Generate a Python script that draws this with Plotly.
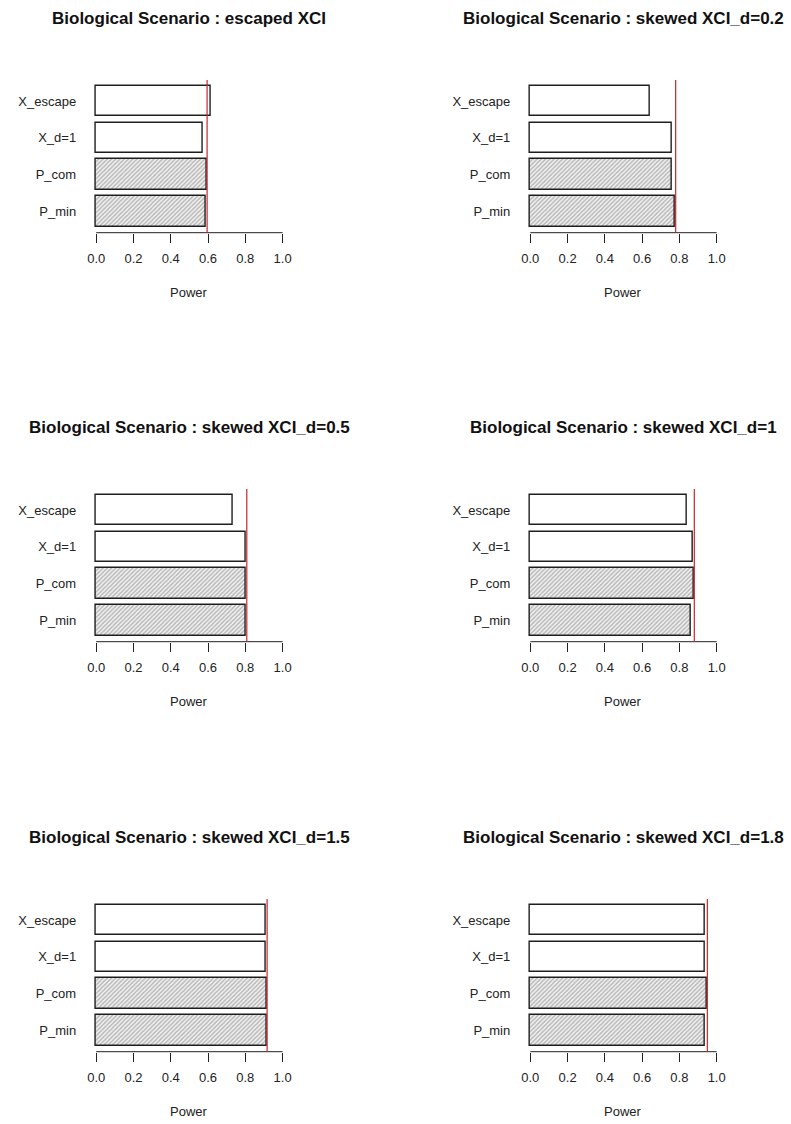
import plotly.graph_objects as go

# ---- data ----
titles = [
    "Biological Scenario : escaped XCI",
    "Biological Scenario : skewed XCI_d=0.2",
    "Biological Scenario : skewed XCI_d=0.5",
    "Biological Scenario : skewed XCI_d=1",
    "Biological Scenario : skewed XCI_d=1.5",
    "Biological Scenario : skewed XCI_d=1.8",
]
methods = ["P_min", "P_com", "X_d=1", "X_escape"]  # bottom -> top
hatched = [True, True, False, False]

power_p1 = [0.59, 0.595, 0.571, 0.617]
power_p2 = [0.778, 0.758, 0.758, 0.641]
power_p3 = [0.802, 0.802, 0.802, 0.730]
power_p4 = [0.863, 0.875, 0.873, 0.842]
power_p5 = [0.915, 0.915, 0.911, 0.911]
power_p6 = [0.938, 0.948, 0.938, 0.938]
powers = [power_p1, power_p2, power_p3, power_p4, power_p5, power_p6]

ref_line = [0.595, 0.78, 0.808, 0.88, 0.917, 0.95]

x_ticks = [0.0, 0.2, 0.4, 0.6, 0.8, 1.0]
x_ticklabels = ["0.0", "0.2", "0.4", "0.6", "0.8", "1.0"]
x_title = "Power"

# ---- layout geometry (pixels) ----
W, H = 791, 1124
col_x = [(87.2, 289.5), (523.5, 725.8)]
row_y = [(80, 232.7), (489, 641.7), (899, 1051.7)]

FONT = "Liberation Sans, Arial, sans-serif"

fig = go.Figure()
shapes = []
annotations = []

for i in range(6):
    r, c = divmod(i, 2)
    idx = "" if i == 0 else str(i + 1)
    xa, ya = "x" + idx, "y" + idx
    x0, x1 = col_x[c]
    yt, yb = row_y[r]

    fig.add_trace(go.Bar(
        x=powers[i], y=methods, orientation="h",
        xaxis=xa, yaxis=ya,
        width=1 / 1.2,
        marker=dict(
            color="white",
            line=dict(color="#1e1e1e", width=1.4),
            pattern=dict(
                shape=["/" if h else "" for h in hatched],
                fgcolor="#7a7a7a", bgcolor="#f4f4f4", size=3, solidity=0.5,
            ),
        ),
        showlegend=False,
        hoverinfo="x+y",
    ))

    fig.update_layout(**{
        ("xaxis" + idx): dict(
            domain=[x0 / W, x1 / W], anchor=ya, range=[-0.04, 1.04],
            tickvals=x_ticks, ticktext=x_ticklabels,
            ticks="outside", ticklen=9, tickwidth=1, tickcolor="#222",
            ticklabelstandoff=5,
            showline=False, showgrid=False, zeroline=False,
            tickfont=dict(family=FONT, size=13, color="#222"),
            fixedrange=True,
        ),
        ("yaxis" + idx): dict(
            domain=[1 - yb / H, 1 - yt / H], anchor=xa,
            categoryorder="array", categoryarray=methods,
            range=[-0.57, 3.57],
            showline=False, showgrid=False, zeroline=False,
            ticks="outside", ticklen=9, tickcolor="rgba(0,0,0,0)",
            tickfont=dict(family=FONT, size=13, color="#222"),
            fixedrange=True,
        ),
    })

    # axis line spanning the tick range only (R style)
    shapes.append(dict(type="line", xref=xa, yref=ya + " domain",
                       x0=x_ticks[0], x1=x_ticks[-1], y0=0, y1=0,
                       line=dict(color="#222", width=1)))
    # reference (red) line
    shapes.append(dict(type="line", xref=xa, yref=ya + " domain",
                       x0=ref_line[i], x1=ref_line[i], y0=0, y1=1,
                       line=dict(color="#c8262b", width=1.2)))

    cx = (x0 + x1) / 2 / W
    annotations.append(dict(
        text="<b>" + titles[i] + "</b>", x=cx, y=1 - (yt - 62) / H,
        xref="paper", yref="paper", xanchor="center", yanchor="middle",
        showarrow=False, font=dict(family=FONT, size=17, color="#111"),
    ))
    annotations.append(dict(
        text=x_title, x=cx, y=1 - (yb + 60) / H,
        xref="paper", yref="paper", xanchor="center", yanchor="middle",
        showarrow=False, font=dict(family=FONT, size=13, color="#222"),
    ))

fig.update_layout(
    width=W, height=H, autosize=False,
    margin=dict(l=0, r=0, t=0, b=0),
    paper_bgcolor="white", plot_bgcolor="white",
    shapes=shapes, annotations=annotations,
    bargap=0,
)

fig.write_html("out.html", config={"displayModeBar": False},
               post_script="document.body.style.margin='0';")
